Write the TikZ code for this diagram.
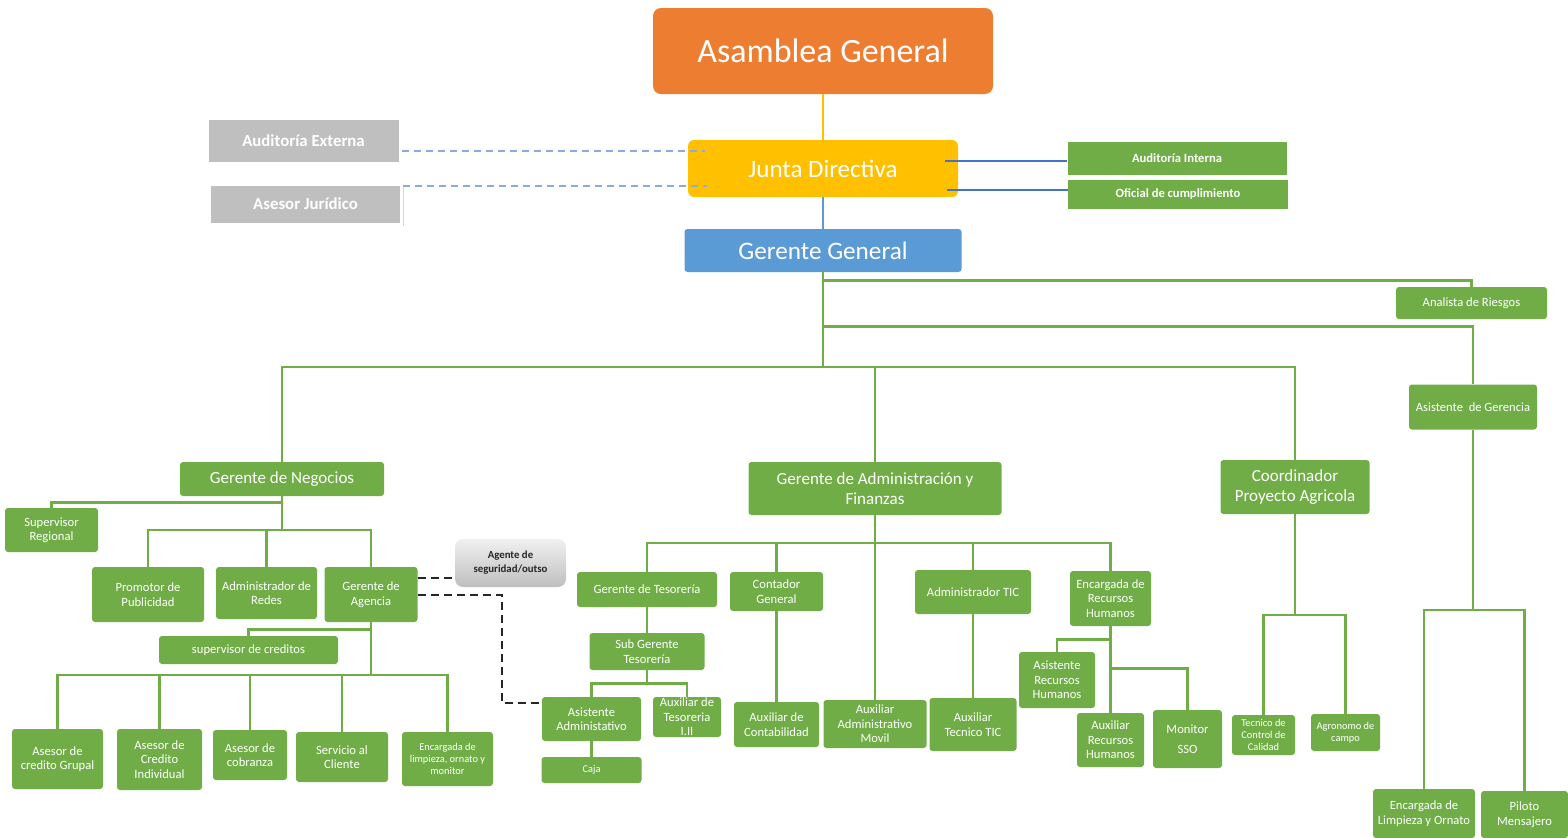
\documentclass[tikz,border=0pt]{standalone}
\usepackage{fontspec}
\setmainfont{Carlito}
\usetikzlibrary{calc,shadows}

\definecolor{verde}{HTML}{70AD47}
\definecolor{naranja}{HTML}{ED7D31}
\definecolor{amarillo}{HTML}{FFC000}
\definecolor{azul}{HTML}{5B9BD5}
\definecolor{azulosc}{HTML}{4472C4}
\definecolor{celeste}{HTML}{8FAADC}
\definecolor{gris}{HTML}{BFBFBF}

\tikzset{
  sz/.style 2 args={minimum width=#1*0.5pt, minimum height=#2*0.5pt},
  puesto/.style={fill=verde, text=white, align=center, inner sep=0pt,
    rounded corners=1.5pt, font=\fontsize{6.3}{7.2}\selectfont},
  grande/.style={puesto, font=\fontsize{8.5}{9.8}\selectfont},
  chico/.style={puesto, font=\fontsize{5.2}{6}\selectfont},
  negrita/.style={puesto, rounded corners=0pt, font=\bfseries\fontsize{6.3}{7.2}\selectfont},
  cabeza/.style={text=white, align=center, inner sep=0pt},
  externo/.style={fill=gris, text=white, inner sep=0pt, draw=white, line width=1.5pt,
    drop shadow={shadow xshift=1pt, shadow yshift=-1pt, fill=black!30},
    font=\bfseries\fontsize{8.4}{10}\selectfont},
  agente/.style={top color=gray!12, bottom color=gray!50, text=black!85, align=center,
    inner sep=0pt, rounded corners=4pt, font=\bfseries\fontsize{5.4}{7}\selectfont},
  lverde/.style={draw=verde, line width=1.2pt},
  lnegra/.style={draw=black!85, line width=1pt, dash pattern=on 4pt off 2.5pt},
  lpunteada/.style={draw=celeste, line width=0.8pt, dash pattern=on 3.5pt off 2.5pt},
  lfina/.style={draw=azulosc, line width=0.6pt},
}

\begin{document}
\begin{tikzpicture}[x=0.5pt, y=-0.5pt]
\useasboundingbox (0,0) rectangle (1568,837);

% direccion
\node[cabeza, fill=naranja, sz={340}{86}, rounded corners=4pt, font=\fontsize{17}{20}\selectfont] (asam) at (823,51) {Asamblea General};
\node[cabeza, fill=amarillo, sz={270}{57}, rounded corners=3pt, font=\fontsize{12.5}{15}\selectfont] (junta) at (823,168.5) {Junta Directiva};
\node[cabeza, fill=azul, sz={277}{43}, rounded corners=1.5pt, font=\fontsize{12.6}{15}\selectfont] (gg) at (823,250.5) {Gerente General};

\node[externo, sz={193}{45}] (audE) at (303.5,140.5) {Auditoría Externa};
\node[externo, sz={192}{40}] (asj) at (305.5,204) {Asesor Jurídico};
\node[negrita, sz={219}{33}] (audI) at (1177,158) {Auditoría Interna};
\node[negrita, sz={220}{29}] (ofc) at (1178,194.5) {Oficial de cumplimiento};

\node[puesto, sz={151}{32}] (anal) at (1471.5,303) {Analista de Riesgos};
\node[puesto, sz={128}{45}] (asisg) at (1473,407) {Asistente~ de Gerencia};

% gerencias
\node[grande, sz={204}{34}] (gn) at (282,479) {Gerente de Negocios};
\node[grande, sz={253}{53}] (gaf) at (875,488.5) {Gerente de Administración y\\Finanzas};
\node[grande, sz={149}{54}] (coord) at (1295,487) {Coordinador\\Proyecto Agricola};

% negocios
\node[puesto, sz={93}{44}] (supr) at (51.5,530) {Supervisor\\Regional};
\node[puesto, sz={112}{55}] (promo) at (148,594.5) {Promotor de\\Publicidad};
\node[puesto, sz={101}{52}] (redes) at (266.5,593) {Administrador de\\Redes};
\node[puesto, sz={93}{55}] (gag) at (371,594.5) {Gerente de\\Agencia};
\node[puesto, sz={179}{28}] (supc) at (248.5,650) {supervisor de creditos};
\node[puesto, sz={91}{60}] (agc) at (57.5,759) {Asesor de\\credito Grupal};
\node[puesto, sz={85}{61}] (aci) at (159.5,759.5) {Asesor de\\Credito\\Individual};
\node[puesto, sz={74}{50}] (acob) at (250,755) {Asesor de\\cobranza};
\node[puesto, sz={92}{50}] (serv) at (342,757) {Servicio al\\Cliente};
\node[chico, sz={91}{54}] (elim) at (447.5,759) {Encargada de\\limpieza, ornato y\\monitor};
\node[agente, sz={111}{48}] (agente) at (510.5,563) {Agente de\\seguridad/outso};

% administracion y finanzas
\node[puesto, sz={140}{35}] (gt) at (647,589.5) {Gerente de Tesorería};
\node[puesto, sz={115}{37}] (sgt) at (647,651.5) {Sub Gerente\\Tesorería};
\node[puesto, sz={99}{44}] (asad) at (591.5,719) {Asistente\\Administativo};
\node[puesto, sz={68}{40}] (auxt) at (687,717) {Auxiliar de\\Tesoreria\\I.II};
\node[chico, sz={100}{26}] (caja) at (591.5,770) {Caja};
\node[puesto, sz={93}{39}] (cont) at (776.5,591.5) {Contador\\General};
\node[puesto, sz={85}{45}] (auxc) at (776.5,724.5) {Auxiliar de\\Contabilidad};
\node[puesto, sz={103}{48}] (aam) at (875,724) {Auxiliar\\Administrativo\\Movil};
\node[puesto, sz={116}{44}] (atic) at (973,592) {Administrador TIC};
\node[puesto, sz={87}{53}] (auxtic) at (973,724.5) {Auxiliar\\Tecnico TIC};
\node[puesto, sz={81}{55}] (erh) at (1110.5,598.5) {Encargada de\\Recursos\\Humanos};
\node[puesto, sz={76}{56}] (asrh) at (1057,680) {Asistente\\Recursos\\Humanos};
\node[puesto, sz={67}{54}] (auxrh) at (1110.5,740) {Auxiliar\\Recursos\\Humanos};
\node[puesto, sz={69}{58}] (mon) at (1187.5,739) {Monitor\\[3pt]SSO};

% proyecto agricola y gerencia
\node[chico, sz={63}{40}] (tec) at (1263.5,735) {Tecnico de\\Control de\\Calidad};
\node[chico, sz={69}{37}] (agro) at (1345.5,732.5) {Agronomo de\\campo};
\node[puesto, sz={102}{49}] (elo) at (1424,813.5) {Encargada de\\Limpieza y Ornato};
\node[puesto, sz={87}{47}] (pil) at (1524.5,814.5) {Piloto\\Mensajero};

% lineas de mando
\draw[draw=amarillo, line width=1pt] (asam) -- (junta);
\draw[draw=azul, line width=1pt] (junta) -- (gg);
\draw[lpunteada] (audE.east |- 0,151) -- ($(junta.west |- 0,151)+(17,0)$);
\draw[lpunteada] (asj.east |- 0,186) -- ($(junta.west |- 0,186)+(19,0)$);
\draw[lfina] ($(junta.east |- 0,161)+(-13,0)$) -- (audI.west |- 0,161);
\draw[lfina] ($(junta.east |- 0,190)+(-11,0)$) -- (ofc.west |- 0,190);

\draw[lverde] (gg.south) -- ++(0,8) -| (anal.north);
\draw[lverde] (gg.south) -- ++(0,54) -| (asisg.north);
\coordinate (rama) at (823,367);
\draw[lverde] (gg.south) -- (rama);
\foreach \n in {gn,gaf,coord} \draw[lverde] (rama) -| (\n.north);

\draw[lverde] (gn.south) -- ++(0,6) -| (supr.north);
\coordinate (rgn) at (282,530);
\draw[lverde] (gn.south) -- (rgn);
\foreach \n in {promo,redes,gag} \draw[lverde] (rgn) -| (\n.north);
\draw[lverde] (gag.south) -- ++(0,7) -| (supc.north);
\coordinate (rag) at (371,675);
\draw[lverde] (gag.south) -- (rag);
\foreach \n in {agc,aci,acob,serv,elim} \draw[lverde] (rag) -| (\n.north);

\draw[lnegra] (gag.east |- 0,578) -- (agente.west |- 0,578);
\coordinate (codo) at (502,703);
\draw[lnegra] (gag.east |- 0,595) -| (codo) -- (asad.west |- codo);

\coordinate (rgaf) at (875,543);
\draw[lverde] (gaf.south) -- (aam.north);
\foreach \n in {gt,cont,atic,erh} \draw[lverde] (rgaf) -| (\n.north);
\draw[lverde] (gt) -- (sgt);
\draw[lverde] (sgt.south) -- ++(0,13) -| (asad.north);
\draw[lverde] (sgt.south) -- ++(0,13) -| (auxt.north);
\draw[lverde] (asad) -- (caja);
\draw[lverde] (cont) -- (auxc);
\draw[lverde] (atic) -- (auxtic);
\draw[lverde] (erh) -- (auxrh);
\draw[lverde] (erh.south) -- ++(0,13) -| (asrh.north);
\draw[lverde] (erh.south) -- ++(0,42) -| (mon.north);

\coordinate (rco) at (1295,615);
\draw[lverde] (coord.south) -- (rco);
\foreach \n in {tec,agro} \draw[lverde] (rco) -| (\n.north);
\coordinate (rasg) at (1473,610);
\draw[lverde] (asisg.south) -- (rasg);
\foreach \n in {elo,pil} \draw[lverde] (rasg) -| (\n.north);
\end{tikzpicture}
\end{document}
